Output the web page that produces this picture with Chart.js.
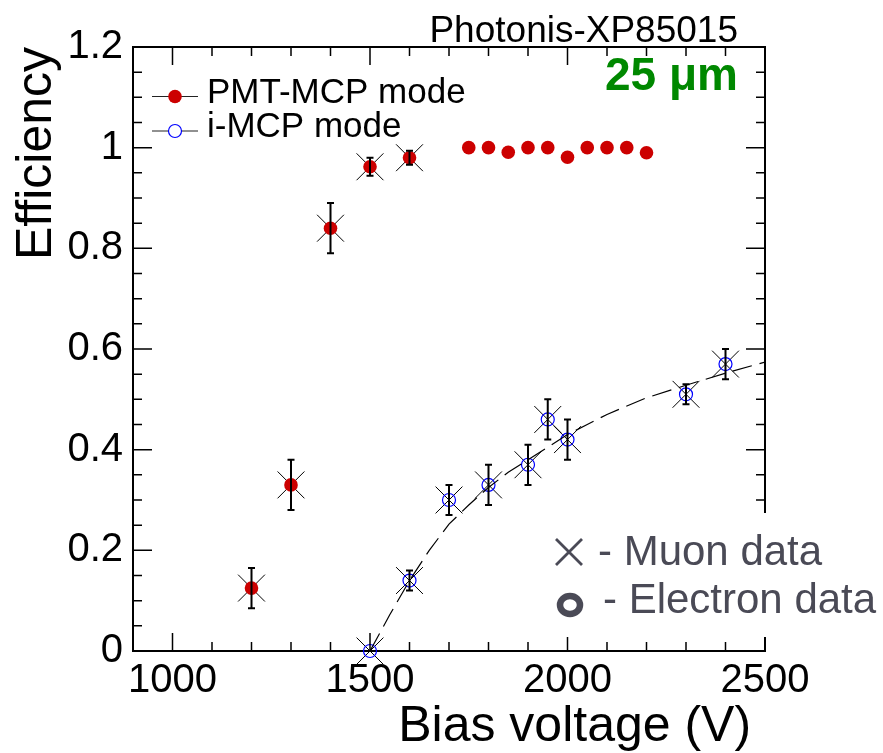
<!DOCTYPE html>
<html lang="en">
<head>
<meta charset="UTF-8">
<title>Efficiency vs bias voltage</title>
<script src="https://cdn.jsdelivr.net/npm/chart.js"></script>
<style>
  html, body { margin: 0; padding: 0; background: #fff; }
  #wrap { width: 883px; height: 753px; }
</style>
</head>
<body>
<div id="wrap"><canvas id="chart" width="883" height="753"></canvas></div>
<script>
// PMT-MCP mode (red filled)
const pmtV   = [1200, 1300, 1400, 1500, 1600, 1750, 1800, 1850, 1900, 1950, 2000, 2050, 2100, 2150, 2200];
const pmtEff = [0.125, 0.33, 0.84, 0.962, 0.98, 1.0, 1.0, 0.991, 1.0, 1.0, 0.981, 1.0, 1.0, 1.0, 0.99];
const pmtErr = [0.04, 0.05, 0.05, 0.018, 0.014, 0, 0, 0, 0, 0, 0, 0, 0, 0, 0];

// i-MCP mode (blue open)
const imcpV   = [1500, 1600, 1700, 1800, 1900, 1950, 2000, 2300, 2400];
const imcpEff = [0.0, 0.14, 0.30, 0.33, 0.37, 0.46, 0.42, 0.51, 0.57];
const imcpErr = [0, 0.02, 0.03, 0.04, 0.04, 0.04, 0.04, 0.02, 0.03];

// muon data crosses
const muonV   = [1200, 1300, 1400, 1500, 1600, 1500, 1600, 1700, 1800, 1900, 1950, 2000, 2300, 2400];
const muonEff = [0.125, 0.33, 0.84, 0.962, 0.98, 0.0, 0.14, 0.30, 0.33, 0.37, 0.46, 0.42, 0.51, 0.57];

// dashed fit curve
const fitV   = [1500, 1550, 1600, 1650, 1700, 1750, 1800, 1850, 1900, 1950, 2000, 2050, 2100, 2200, 2300, 2400, 2500];
const fitEff = [0.0, 0.072, 0.14, 0.2, 0.252, 0.29, 0.325, 0.355, 0.38, 0.405, 0.43, 0.45, 0.47, 0.503, 0.528, 0.552, 0.574];

const xTicks = [1000, 1500, 2000, 2500];
const yTicks = [0, 0.2, 0.4, 0.6, 0.8, 1.0, 1.2];

const FONT = '"Liberation Sans", Arial, Helvetica, sans-serif';
const pts = (xs, ys) => xs.map((v, i) => ({ x: v, y: ys[i] }));

const errorBars = {
  id: 'errorBars',
  afterDatasetsDraw(chart) {
    const { ctx, scales: { x, y } } = chart;
    ctx.save();
    ctx.strokeStyle = '#000';
    ctx.lineWidth = 2;
    const draw = (xs, ys, es) => {
      xs.forEach((v, i) => {
        if (!es[i]) return;
        const px = x.getPixelForValue(v);
        const y1 = y.getPixelForValue(ys[i] + es[i]);
        const y2 = y.getPixelForValue(ys[i] - es[i]);
        ctx.beginPath();
        ctx.moveTo(px, y1); ctx.lineTo(px, y2);
        ctx.moveTo(px - 3.5, y1); ctx.lineTo(px + 3.5, y1);
        ctx.moveTo(px - 3.5, y2); ctx.lineTo(px + 3.5, y2);
        ctx.stroke();
      });
    };
    draw(pmtV, pmtEff, pmtErr);
    draw(imcpV, imcpEff, imcpErr);
    ctx.restore();
  }
};

const frame = {
  id: 'frame',
  afterDraw(chart) {
    const { ctx, chartArea: a, scales: { x, y } } = chart;
    ctx.save();
    // top and right borders
    ctx.strokeStyle = '#000';
    ctx.lineWidth = 2;
    ctx.beginPath();
    ctx.moveTo(a.left, a.top); ctx.lineTo(a.right, a.top); ctx.lineTo(a.right, a.bottom);
    ctx.stroke();

    // inward ticks on all four sides
    ctx.lineWidth = 1.5;
    ctx.beginPath();
    for (let v = 1000; v <= 2500; v += 100) {
      const px = x.getPixelForValue(v);
      const len = v % 500 === 0 ? 18 : 9;
      ctx.moveTo(px, a.bottom); ctx.lineTo(px, a.bottom - len);
      ctx.moveTo(px, a.top); ctx.lineTo(px, a.top + len);
    }
    for (let k = 1; k < 24; k++) {
      const v = k * 0.05;
      const py = y.getPixelForValue(v);
      const len = k % 4 === 0 ? 19 : 9;
      ctx.moveTo(a.left, py); ctx.lineTo(a.left + len, py);
      ctx.moveTo(a.right, py); ctx.lineTo(a.right - len, py);
    }
    ctx.stroke();

    // legend
    const legendRows = [
      { y: 96.5, text: 'PMT-MCP mode', ds: chart.data.datasets[1] },
      { y: 131, text: 'i-MCP mode', ds: chart.data.datasets[2] }
    ];
    legendRows.forEach(r => {
      ctx.strokeStyle = '#222';
      ctx.lineWidth = 1.2;
      ctx.beginPath(); ctx.moveTo(152, r.y); ctx.lineTo(198, r.y); ctx.stroke();
      ctx.beginPath();
      ctx.arc(175, r.y, r.ds.pointRadius, 0, Math.PI * 2);
      if (r.ds.backgroundColor !== 'rgba(0,0,0,0)') {
        ctx.fillStyle = r.ds.backgroundColor; ctx.fill();
      } else {
        ctx.fillStyle = '#fff'; ctx.fill();
        ctx.strokeStyle = r.ds.borderColor; ctx.lineWidth = r.ds.borderWidth; ctx.stroke();
      }
      ctx.fillStyle = '#000';
      ctx.font = '35px ' + FONT;
      ctx.textAlign = 'left';
      ctx.textBaseline = 'alphabetic';
      ctx.fillText(r.text, 207, r.y + 6);
    });

    // top texts
    ctx.fillStyle = '#000';
    ctx.font = '37px ' + FONT;
    ctx.textAlign = 'right';
    ctx.fillText('Photonis-XP85015', 738, 42);
    ctx.fillStyle = '#008800';
    ctx.font = 'bold 46px ' + FONT;
    ctx.fillText('25 μm', 738, 90);

    // white box with muon / electron key
    ctx.fillStyle = '#fff';
    ctx.fillRect(545, 513, 338, 124);
    const grey = '#4a4a56';
    ctx.strokeStyle = grey;
    ctx.lineWidth = 2.8;
    ctx.beginPath();
    ctx.moveTo(556, 539); ctx.lineTo(582, 565);
    ctx.moveTo(582, 539); ctx.lineTo(556, 565);
    ctx.stroke();
    ctx.lineWidth = 6.5;
    ctx.beginPath(); ctx.ellipse(570, 605, 10, 9, 0, 0, Math.PI * 2); ctx.stroke();
    ctx.fillStyle = grey;
    ctx.font = '42px ' + FONT;
    ctx.textAlign = 'left';
    ctx.fillText('- Muon data', 598, 565);
    ctx.fillText('- Electron data', 603, 613);
    ctx.restore();
  }
};

new Chart(document.getElementById('chart'), {
  type: 'scatter',
  data: {
    datasets: [
      {
        label: 'fit',
        data: pts(fitV, fitEff),
        showLine: true,
        borderColor: '#000',
        borderWidth: 1.2,
        borderDash: [20, 8],
        pointRadius: 0,
        fill: false
      },
      {
        label: 'PMT-MCP mode',
        data: pts(pmtV, pmtEff),
        pointStyle: 'circle',
        pointRadius: 6.8,
        backgroundColor: '#cc0000',
        borderColor: '#cc0000',
        borderWidth: 0,
        clip: false
      },
      {
        label: 'i-MCP mode',
        data: pts(imcpV, imcpEff),
        pointStyle: 'circle',
        pointRadius: 6.5,
        backgroundColor: 'rgba(0,0,0,0)',
        borderColor: '#0000ff',
        borderWidth: 1.2,
        clip: false
      },
      {
        label: 'Muon data',
        data: pts(muonV, muonEff),
        pointStyle: 'crossRot',
        pointRadius: 19,
        borderColor: '#000',
        borderWidth: 1,
        clip: false
      }
    ]
  },
  options: {
    responsive: false,
    animation: false,
    layout: { padding: { top: 47, right: 118, left: 0, bottom: 0 } },
    plugins: { legend: { display: false }, tooltip: { enabled: false } },
    scales: {
      x: {
        type: 'linear',
        min: 900,
        max: 2500,
        afterBuildTicks: s => { s.ticks = xTicks.map(v => ({ value: v })); },
        afterFit: s => { s.height = 102; },
        grid: { display: false, drawTicks: false },
        border: { display: true, color: '#000', width: 2 },
        ticks: {
          padding: 6, color: '#000', maxRotation: 0, autoSkip: false,
          font: { family: FONT, size: 40 },
          callback: v => String(v)
        },
        title: {
          display: true, text: 'Bias voltage (V) ', align: 'end', color: '#000',
          font: { family: FONT, size: 50, lineHeight: 1 }, padding: { top: 0, bottom: 1 }
        }
      },
      y: {
        type: 'linear',
        min: 0,
        max: 1.2,
        afterBuildTicks: s => { s.ticks = yTicks.map(v => ({ value: v })); },
        afterFit: s => { s.width = 133; },
        grid: { display: false, drawTicks: false },
        border: { display: true, color: '#000', width: 2 },
        ticks: {
          padding: 10, color: '#000', font: { family: FONT, size: 40 },
          callback: v => String(Math.round(v * 10) / 10)
        },
        title: {
          display: true, text: 'Efficiency', align: 'end', color: '#000',
          font: { family: FONT, size: 50, lineHeight: 1 }, padding: { top: 12, bottom: 0 }
        }
      }
    }
  },
  plugins: [errorBars, frame]
});
</script>
</body>
</html>
